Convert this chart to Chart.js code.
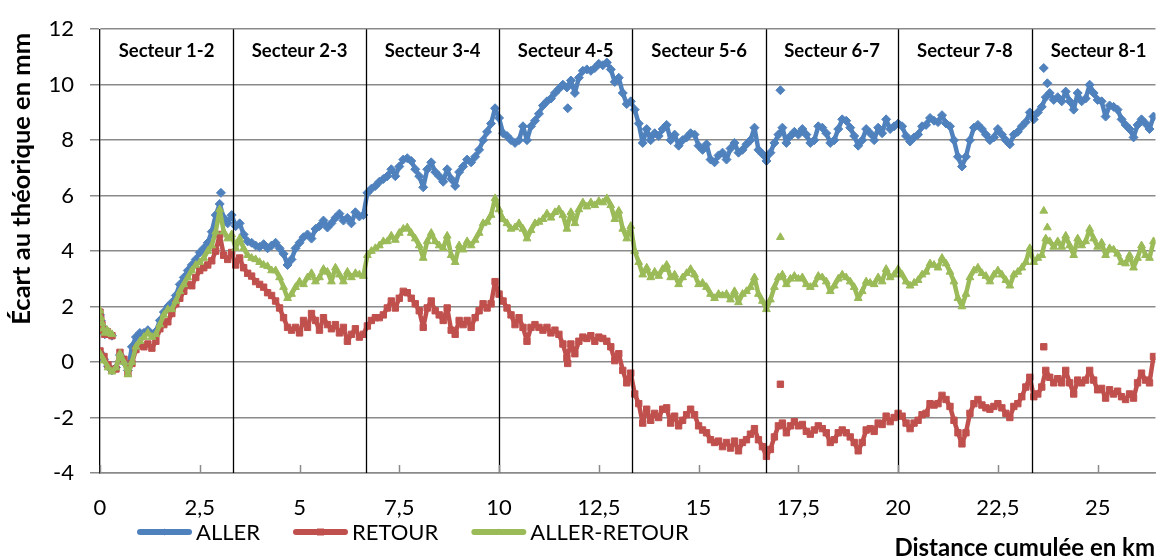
<!DOCTYPE html>
<html lang="fr">
<head>
<meta charset="UTF-8">
<title>Écart au théorique</title>
<script src="https://cdn.jsdelivr.net/npm/chart.js@4.4.1/dist/chart.umd.min.js"></script>
<style>
  html, body { margin: 0; padding: 0; background: #fff; }
  #wrap { width: 1161px; height: 558px; }
</style>
</head>
<body>
<div id="wrap"><canvas id="chart"></canvas></div>
<script>
// distance cumulée (km), one reading every 100 m
const km = [
  0.0, 0.1, 0.2, 0.3, 0.4, 0.5, 0.6, 0.7, 0.8, 0.9,
  1.0, 1.1, 1.2, 1.3, 1.4, 1.5, 1.6, 1.7, 1.8, 1.9,
  2.0, 2.1, 2.2, 2.3, 2.4, 2.5, 2.6, 2.7, 2.8, 2.9,
  3.0, 3.1, 3.2, 3.3, 3.4, 3.5, 3.6, 3.7, 3.8, 3.9,
  4.0, 4.1, 4.2, 4.3, 4.4, 4.5, 4.6, 4.7, 4.8, 4.9,
  5.0, 5.1, 5.2, 5.3, 5.4, 5.5, 5.6, 5.7, 5.8, 5.9,
  6.0, 6.1, 6.2, 6.3, 6.4, 6.5, 6.6, 6.7, 6.8, 6.9,
  7.0, 7.1, 7.2, 7.3, 7.4, 7.5, 7.6, 7.7, 7.8, 7.9,
  8.0, 8.1, 8.2, 8.3, 8.4, 8.5, 8.6, 8.7, 8.8, 8.9,
  9.0, 9.1, 9.2, 9.3, 9.4, 9.5, 9.6, 9.7, 9.8, 9.9,
  10.0, 10.1, 10.2, 10.3, 10.4, 10.5, 10.6, 10.7, 10.8, 10.9,
  11.0, 11.1, 11.2, 11.3, 11.4, 11.5, 11.6, 11.7, 11.8, 11.9,
  12.0, 12.1, 12.2, 12.3, 12.4, 12.5, 12.6, 12.7, 12.8, 12.9,
  13.0, 13.1, 13.2, 13.3, 13.4, 13.5, 13.6, 13.7, 13.8, 13.9,
  14.0, 14.1, 14.2, 14.3, 14.4, 14.5, 14.6, 14.7, 14.8, 14.9,
  15.0, 15.1, 15.2, 15.3, 15.4, 15.5, 15.6, 15.7, 15.8, 15.9,
  16.0, 16.1, 16.2, 16.3, 16.4, 16.5, 16.6, 16.7, 16.8, 16.9,
  17.0, 17.1, 17.2, 17.3, 17.4, 17.5, 17.6, 17.7, 17.8, 17.9,
  18.0, 18.1, 18.2, 18.3, 18.4, 18.5, 18.6, 18.7, 18.8, 18.9,
  19.0, 19.1, 19.2, 19.3, 19.4, 19.5, 19.6, 19.7, 19.8, 19.9,
  20.0, 20.1, 20.2, 20.3, 20.4, 20.5, 20.6, 20.7, 20.8, 20.9,
  21.0, 21.1, 21.2, 21.3, 21.4, 21.5, 21.6, 21.7, 21.8, 21.9,
  22.0, 22.1, 22.2, 22.3, 22.4, 22.5, 22.6, 22.7, 22.8, 22.9,
  23.0, 23.1, 23.2, 23.3, 23.4, 23.5, 23.6, 23.7, 23.8, 23.9,
  24.0, 24.1, 24.2, 24.3, 24.4, 24.5, 24.6, 24.7, 24.8, 24.9,
  25.0, 25.1, 25.2, 25.3, 25.4, 25.5, 25.6, 25.7, 25.8, 25.9,
  26.0, 26.1, 26.2, 26.3, 26.4
];

// écart au théorique (mm)
const aller = [
  0.35, 0.1, -0.15, -0.3, -0.2, 0.25, 0.0, -0.3, 0.55, 0.9,
  1.05, 1.05, 1.15, 1.0, 1.1, 1.5, 1.8, 2.0, 2.15, 2.4,
  2.8, 3.05, 3.3, 3.5, 3.7, 3.95, 4.1, 4.3, 4.7, 5.3,
  5.7, 5.2, 5.0, 5.3, 4.9, 5.0, 4.6, 4.35, 4.3, 4.2,
  4.15, 4.25, 4.1, 4.2, 4.3, 4.1, 3.9, 3.5, 3.7, 4.1,
  4.3, 4.5, 4.6, 4.45, 4.8, 4.9, 5.1, 4.85, 5.0, 5.2,
  5.35, 5.1, 5.2, 5.0, 5.4, 5.25, 5.3, 6.1, 6.25, 6.35,
  6.5, 6.6, 6.7, 6.95, 6.7, 7.05, 7.3, 7.35, 7.25, 6.95,
  6.7, 6.3, 6.95, 7.2, 6.85, 6.7, 6.5, 6.95, 6.6, 6.35,
  6.85, 7.05, 7.3, 7.2, 7.4, 7.65, 8.0, 8.3, 8.6, 9.15,
  8.8, 8.25, 8.15, 8.0, 7.9, 8.0, 8.5, 8.0, 8.5, 8.7,
  8.95, 9.25, 9.4, 9.5, 9.7, 9.85, 10.0, 9.9, 10.15, 9.7,
  10.25, 10.5, 10.55, 10.5, 10.6, 10.75, 10.7, 10.8, 10.55, 10.1,
  10.25, 9.7, 9.3, 9.4, 9.1, 8.6, 7.9, 8.4, 8.0, 8.25,
  8.15, 8.4, 8.55, 8.0, 8.2, 7.8, 8.0, 8.1, 8.25, 8.2,
  7.8, 7.65, 7.85, 7.3, 7.2, 7.45, 7.55, 7.3, 7.7, 7.9,
  7.55, 7.65, 7.85, 8.0, 8.45, 7.65, 7.5, 7.25, 7.55, 7.9,
  8.2, 8.45, 7.9, 8.15, 8.3, 8.2, 8.4, 8.2, 7.9, 8.0,
  8.5, 8.45, 8.25, 7.9, 8.0, 8.4, 8.75, 8.7, 8.45, 8.15,
  7.8, 8.0, 8.4, 8.25, 8.0, 8.45, 8.25, 8.75, 8.4, 8.5,
  8.6, 8.5, 8.15, 7.95, 8.1, 8.2, 8.5, 8.55, 8.8, 8.7,
  8.65, 8.9, 8.6, 8.5, 8.0, 7.4, 7.05, 7.4, 8.0, 8.45,
  8.55, 8.4, 8.2, 8.0, 8.1, 8.4, 8.2, 8.0, 7.85, 8.2,
  8.3, 8.5, 8.65, 9.0, 8.75, 9.0, 9.2, 9.55, 9.7, 9.45,
  9.55, 9.4, 9.75, 9.4, 9.1, 9.7, 9.4, 9.5, 10.0, 9.7,
  9.45, 9.4, 8.85, 9.25, 9.2, 9.1, 8.75, 8.55, 8.4, 8.1,
  8.55, 8.75, 8.6, 8.4, 8.85
];
const retour = [
  0.4, 0.2, -0.1, -0.3, -0.25, 0.35, 0.1, -0.4, -0.05, 0.45,
  0.6, 0.55, 0.65, 0.5, 0.75, 1.2, 1.35, 1.45, 1.75, 2.1,
  2.3, 2.55, 2.8, 2.75, 3.05, 3.3, 3.4, 3.5, 3.65, 4.0,
  4.6, 3.85, 3.7, 3.95, 3.5, 3.75, 3.4, 3.2, 3.1, 2.9,
  2.8, 2.7, 2.5, 2.4, 2.2, 1.95, 1.6, 1.25, 1.15, 1.25,
  1.05, 1.5, 1.25, 1.75, 1.5, 1.15, 1.6, 1.35, 1.2, 1.35,
  1.05, 1.25, 0.75, 1.0, 1.2, 0.9, 1.0, 1.3, 1.5, 1.6,
  1.6, 1.7, 1.95, 2.2, 1.95, 2.3, 2.55, 2.5, 2.3, 2.1,
  1.85, 1.25, 1.95, 2.2, 1.85, 1.7, 1.5, 1.95, 1.15, 1.0,
  1.5, 1.35, 1.5, 1.25, 1.6, 1.85, 2.1, 1.95, 2.1, 2.9,
  2.45, 2.2, 1.95, 1.7, 1.35, 1.6, 1.25, 0.75, 1.25, 1.35,
  1.25, 1.15, 1.25, 1.05, 1.15, 1.0, 0.65, 0.15, 0.65, 0.3,
  0.75, 0.9, 0.85, 0.95, 0.75, 0.9, 0.85, 0.75, 0.55, 0.05,
  0.3, -0.3, -0.75, -0.4, -1.15, -1.5, -2.2, -1.7, -2.1, -1.85,
  -2.0, -1.7, -1.65, -2.2, -1.95, -2.3, -2.1, -1.9, -1.7, -1.9,
  -2.3, -2.45, -2.55, -2.8, -2.9, -2.85, -3.05, -2.9, -3.1, -2.85,
  -3.2, -2.9, -2.8, -2.6, -2.4, -2.8, -3.05, -3.4, -3.15, -2.7,
  -2.3, -2.2, -2.55, -2.3, -2.15, -2.3, -2.25, -2.5, -2.6, -2.45,
  -2.3, -2.4, -2.55, -2.9, -2.8, -2.55, -2.45, -2.55, -2.7, -2.9,
  -3.2, -2.9, -2.45, -2.4, -2.5, -2.2, -2.25, -1.95, -2.15, -2.0,
  -1.85, -1.95, -2.2, -2.4, -2.2, -2.1, -1.9, -1.85, -1.5, -1.55,
  -1.5, -1.2, -1.35, -1.6, -2.1, -2.55, -2.95, -2.55, -1.85, -1.5,
  -1.35, -1.55, -1.65, -1.7, -1.6, -1.5, -1.65, -1.85, -2.0, -1.6,
  -1.5, -1.25, -0.9, -0.55, -1.25, -1.15, -0.9, -0.3, -0.55, -0.75,
  -0.6, -0.75, -0.3, -0.75, -1.15, -0.65, -0.75, -0.65, -0.3, -0.65,
  -1.0, -0.95, -1.3, -1.0, -1.15, -1.05, -1.25, -1.35, -1.15, -1.3,
  -0.75, -0.4, -0.65, -0.75, 0.2
];
const allerRetour = [
  0.3, 0.05, -0.2, -0.35, -0.2, 0.3, 0.0, -0.45, 0.0, 0.55,
  0.75, 0.9, 1.05, 0.9, 1.0, 1.35, 1.7, 1.9, 1.9, 2.2,
  2.55, 2.8, 3.05, 3.3, 3.5, 3.6, 3.75, 4.0, 4.2, 4.7,
  5.5, 4.7, 4.45, 4.6, 4.1, 4.45, 4.1, 3.85, 3.75, 3.7,
  3.6, 3.5, 3.45, 3.3, 3.3, 3.05, 2.7, 2.3, 2.45, 2.7,
  2.9, 2.8, 3.05, 3.2, 2.9, 3.05, 3.35, 3.25, 2.9, 3.4,
  3.15, 2.9, 3.25, 3.05, 3.2, 3.15, 3.1, 3.85, 4.0, 4.1,
  4.2, 4.35, 4.35, 4.55, 4.4, 4.65, 4.8, 4.85, 4.65, 4.45,
  4.2, 3.75, 4.35, 4.65, 4.35, 4.2, 4.1, 4.55, 3.85, 3.6,
  4.2, 4.05, 4.35, 4.2, 4.4, 4.65, 5.0, 5.05, 5.3, 5.9,
  5.5, 5.15, 5.0, 4.8, 4.85, 5.0, 4.8, 4.45, 4.75, 5.0,
  5.05, 5.15, 5.35, 5.2, 5.4, 5.5, 5.3, 4.8, 5.4, 5.0,
  5.5, 5.75, 5.6, 5.75, 5.65, 5.8, 5.75, 5.9, 5.65, 5.15,
  5.45, 4.8, 4.45, 4.9, 4.0, 3.6, 3.15, 3.4, 3.05, 3.25,
  3.1, 3.35, 3.5, 3.05, 3.15, 2.8, 3.05, 3.2, 3.35, 3.15,
  2.8, 2.85, 2.7, 2.45, 2.3, 2.45, 2.4, 2.45, 2.25, 2.55,
  2.15, 2.45, 2.55, 2.7, 3.05, 2.45, 2.2, 1.9, 2.25, 2.7,
  3.05, 3.15, 2.8, 3.0, 3.1, 3.0, 3.05, 2.8, 2.7, 2.8,
  3.1, 3.05, 2.9, 2.55, 2.75, 3.0, 3.15, 3.05, 2.9, 2.7,
  2.3, 2.55, 2.9, 2.85, 2.8, 3.05, 2.9, 3.35, 3.05, 3.15,
  3.35, 3.15, 2.9, 2.75, 2.85, 2.95, 3.15, 3.25, 3.55, 3.5,
  3.4, 3.75, 3.55, 3.25, 2.9, 2.3, 2.0, 2.45, 3.05, 3.3,
  3.4, 3.2, 3.1, 2.9, 3.15, 3.3, 3.15, 2.95, 2.75, 3.15,
  3.25, 3.4, 3.6, 4.1, 3.6, 3.75, 3.85, 4.45, 4.35, 4.15,
  4.35, 4.15, 4.55, 4.2, 3.85, 4.45, 4.2, 4.35, 4.8, 4.45,
  4.15, 4.3, 3.85, 4.1, 4.05, 3.9, 3.6, 3.55, 3.85, 3.4,
  3.75, 4.2, 3.85, 3.75, 4.35
];

// isolated readings (start-up cluster and stray points)
const allerStrayKm = [0.0, 0.02, 0.05, 0.08, 0.12, 0.18, 0.24, 0.3, 3.03, 11.72, 17.05, 23.65, 23.74];
const allerStray = [1.7, 1.5, 1.3, 1.1, 1.0, 1.05, 1.0, 0.95, 6.1, 9.15, 9.8, 10.6, 10.05];
const retourStrayKm = [0.0, 0.02, 0.05, 0.08, 0.12, 0.18, 0.24, 0.3, 11.72, 17.05, 23.65];
const retourStray = [1.8, 1.55, 1.35, 1.15, 1.0, 1.1, 1.0, 0.95, -0.05, -0.8, 0.55];
const allerRetourStrayKm = [0.0, 0.02, 0.05, 0.08, 0.12, 0.18, 0.24, 0.3, 17.05, 23.65, 23.74];
const allerRetourStray = [1.85, 1.6, 1.4, 1.2, 1.05, 1.15, 1.05, 1.0, 4.5, 5.45, 4.85];

const seriesNames = ['ALLER', 'RETOUR', 'ALLER-RETOUR'];
const seriesColors = ['#4F81BD', '#C0504D', '#9BBB59'];
const seriesMarkers = ['rectRot', 'rect', 'triangle'];

const sectorEdges = [0, 3.335, 6.67, 10.0, 13.34, 16.69, 20.0, 23.35, 26.7];
const sectorNames = ['Secteur 1-2', 'Secteur 2-3', 'Secteur 3-4', 'Secteur 4-5',
                     'Secteur 5-6', 'Secteur 6-7', 'Secteur 7-8', 'Secteur 8-1'];
const xTicks = [0, 2.5, 5, 7.5, 10, 12.5, 15, 17.5, 20, 22.5, 25];

const xTitle = 'Distance cumulée en km';
const yTitle = 'Écart au théorique en mm';

const FONT = 'Lato, "Open Sans", sans-serif';

function pts(xs, ys) {
  return xs.map((x, i) => ({ x: x, y: ys[i] }));
}

function mainSet(i, values, order) {
  return {
    label: seriesNames[i],
    data: pts(km, values),
    showLine: true,
    borderColor: seriesColors[i],
    backgroundColor: seriesColors[i],
    borderWidth: 4.5,
    borderJoinStyle: 'round',
    pointStyle: seriesMarkers[i],
    pointRadius: 4.5,
    pointBorderWidth: 1,
    order: order
  };
}

function straySet(i, xs, ys, order) {
  return {
    label: seriesNames[i] + ' (isolé)',
    data: pts(xs, ys),
    showLine: false,
    borderColor: seriesColors[i],
    backgroundColor: seriesColors[i],
    pointStyle: seriesMarkers[i],
    pointRadius: 4.5,
    pointBorderWidth: 1,
    order: order
  };
}

function marker(ctx, style, cx, cy, r) {
  ctx.beginPath();
  if (style === 'rect') {
    ctx.rect(cx - r, cy - r, 2 * r, 2 * r);
  } else if (style === 'rectRot') {
    ctx.moveTo(cx, cy - r); ctx.lineTo(cx + r, cy); ctx.lineTo(cx, cy + r); ctx.lineTo(cx - r, cy);
    ctx.closePath();
  } else {
    ctx.moveTo(cx, cy - r); ctx.lineTo(cx + r, cy + r * 0.8); ctx.lineTo(cx - r, cy + r * 0.8);
    ctx.closePath();
  }
  ctx.fill();
}

// sector separators, sector names, inner x tick marks, axis titles, legend
const decor = {
  id: 'decor',
  afterDatasetsDraw(chart) {
    const { ctx, chartArea: a, scales: { x, y } } = chart;
    ctx.save();
    ctx.strokeStyle = '#000';
    ctx.lineWidth = 1.3;
    for (let i = 1; i < sectorEdges.length - 1; i++) {
      const px = Math.round(x.getPixelForValue(sectorEdges[i])) + 0.5;
      ctx.beginPath(); ctx.moveTo(px, a.top); ctx.lineTo(px, a.bottom); ctx.stroke();
    }
    ctx.strokeStyle = '#8a8a8a';
    ctx.lineWidth = 1.5;
    xTicks.forEach(v => {
      const px = Math.round(x.getPixelForValue(v)) + 0.5;
      ctx.beginPath(); ctx.moveTo(px, a.bottom); ctx.lineTo(px, a.bottom - 8); ctx.stroke();
    });
    ctx.fillStyle = '#000';
    ctx.font = 'bold 18.5px ' + FONT;
    ctx.textAlign = 'center';
    ctx.textBaseline = 'middle';
    sectorNames.forEach((n, i) => {
      const mid = (sectorEdges[i] + sectorEdges[i + 1]) / 2;
      ctx.fillText(n, x.getPixelForValue(mid), y.getPixelForValue(11.2));
    });
    ctx.restore();
  },
  afterDraw(chart) {
    const ctx = chart.ctx;
    ctx.save();
    ctx.fillStyle = '#000';
    ctx.textBaseline = 'middle';

    // axis titles
    ctx.font = 'bold 24px ' + FONT;
    ctx.textAlign = 'right';
    ctx.fillText(xTitle, 1155, 548);
    ctx.save();
    ctx.translate(22, 33);
    ctx.rotate(-Math.PI / 2);
    ctx.font = 'bold 25.5px ' + FONT;
    ctx.textAlign = 'right';
    ctx.fillText(yTitle, 0, 0);
    ctx.restore();

    // legend
    const ly = 532;
    let lx = 137;
    ctx.font = '22px ' + FONT;
    ctx.textAlign = 'left';
    seriesNames.forEach((name, i) => {
      ctx.strokeStyle = seriesColors[i];
      ctx.lineWidth = 6;
      ctx.lineCap = 'round';
      ctx.beginPath(); ctx.moveTo(lx + 3, ly); ctx.lineTo(lx + 52, ly); ctx.stroke();
      ctx.fillStyle = seriesColors[i];
      marker(ctx, seriesMarkers[i], lx + 27.5, ly, 3.5);
      ctx.fillStyle = '#000';
      ctx.fillText(name, lx + 59, ly + 1);
      lx += 59 + ctx.measureText(name).width + 33;
    });
    ctx.restore();
  }
};

new Chart(document.getElementById('chart'), {
  type: 'scatter',
  data: {
    datasets: [
      mainSet(2, allerRetour, 0),
      straySet(2, allerRetourStrayKm, allerRetourStray, 0),
      mainSet(1, retour, 1),
      straySet(1, retourStrayKm, retourStray, 1),
      mainSet(0, aller, 2),
      straySet(0, allerStrayKm, allerStray, 2)
    ]
  },
  options: {
    responsive: true,
    maintainAspectRatio: false,
    animation: false,
    layout: { padding: { top: 4, right: 0, bottom: 0, left: 0 } },
    plugins: {
      legend: { display: false },
      tooltip: { enabled: false }
    },
    scales: {
      x: {
        type: 'linear',
        min: 0,
        max: 26.45,
        afterBuildTicks: s => { s.ticks = xTicks.map(v => ({ value: v })); },
        afterFit: s => { s.height = 85; },
        grid: { display: true, drawOnChartArea: false, drawTicks: false },
        border: { color: '#8a8a8a', width: 1.5 },
        ticks: {
          padding: 22,
          color: '#000',
          maxRotation: 0,
          autoSkip: false,
          font: { family: FONT, size: 22 },
          callback: v => String(v).replace('.', ',')
        }
      },
      y: {
        min: -4,
        max: 12,
        afterFit: s => { s.width = 100; },
        grid: { color: '#8a8a8a', lineWidth: 1.5, tickLength: 10 },
        border: { color: '#000', width: 1.3 },
        ticks: {
          stepSize: 2,
          padding: 16,
          color: '#000',
          font: { family: FONT, size: 22 }
        }
      }
    }
  },
  plugins: [decor]
});
</script>
</body>
</html>
